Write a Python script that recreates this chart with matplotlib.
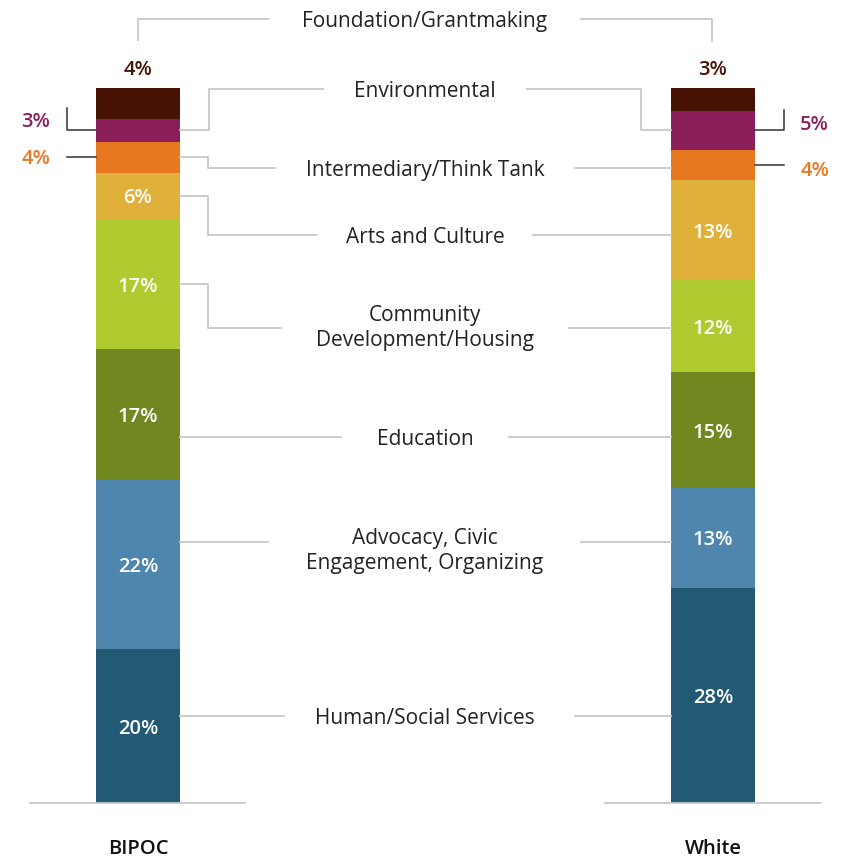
import matplotlib.pyplot as plt

# data: stacked from bottom to top
groups = ['BIPOC', 'White']
categories = ['Human/Social Services', 'Advocacy, Civic\nEngagement, Organizing', 'Education',
              'Community\nDevelopment/Housing', 'Arts and Culture', 'Intermediary/Think Tank',
              'Environmental', 'Foundation/Grantmaking']
bipoc = [20, 22, 17, 17, 6, 4, 3, 4]
white = [28, 13, 15, 12, 13, 4, 5, 3]
colors = ['#215a72', '#4f86ad', '#718820', '#afcb2f', '#dfb03a', '#e87722', '#8a1e5b', '#461203']

plt.rcParams['font.family'] = ['Open Sans', 'DejaVu Sans']

# pixel layout -> data coordinates
X0, DX = 138.0, 575.0
Y0, DY = 803.0, 715.0 / 93.0
TOFF = 2.5  # text sits a little lower than its box centre


def px(x):
    return (x - X0) / DX


def py(y):
    return (Y0 - y) / DY


fig = plt.figure(figsize=(8.48, 8.61), dpi=100)
ax = fig.add_axes([0, 0, 1, 1])
ax.set_xlim(px(0), px(848))
ax.set_ylim(py(861), py(0))
ax.axis('off')

bw = 84 / DX
series = [bipoc, white]
mids = []
for i, vals in enumerate(series):
    bottom = 0
    m = []
    for j, v in enumerate(vals):
        ax.bar(i, v, width=bw, bottom=bottom, color=colors[j], linewidth=0)
        m.append(bottom + v / 2)
        if j < 5:
            ax.text(i, bottom + v / 2 - TOFF / DY, f'{v}%', color='white', ha='center',
                    va='center', fontsize=14.5, fontweight='semibold')
        bottom += v
    mids.append(m)

grey = '#c8c8c8'
dark = '#333333'

# baselines
ax.plot([px(30), px(245)], [0, 0], color=grey, lw=1.3)
ax.plot([px(605), px(820)], [0, 0], color=grey, lw=1.3)
for i, g in enumerate(groups):
    ax.text(i, py(859.5), g, ha='center', va='bottom', fontsize=14.5, fontweight='semibold',
            color='#111111')

# category labels with connectors (pixel layout)
label_y = [716, 548.5, 437, 325.5, 235, 168, 89, 19]
conn_y = [716, 542, 437, 328, 235, 168, 89, 19]
left_end = [284, 268, 341, 281, 316, 275, 323, 268]
right_start = [575, 581, 509, 569, 533, 575, 527, 581]
left_elbow = [None, None, None, 208, 208, 208, 209, None]

bl = 180  # right edge of BIPOC bar
wl = 671  # left edge of White bar
for j, cat in enumerate(categories):
    ax.text(px(425), py(label_y[j] + TOFF), cat, ha='center', va='center', fontsize=15,
            color='#222222', linespacing=1.2)
    cy = py(conn_y[j])
    # left side
    if j == 7:
        ax.plot([px(138), px(138), px(left_end[j])], [py(40), cy, cy], color=grey, lw=1.3)
    elif left_elbow[j] is not None:
        ex = px(left_elbow[j])
        ax.plot([px(bl), ex, ex, px(left_end[j])], [mids[0][j], mids[0][j], cy, cy],
                color=grey, lw=1.3)
    else:
        ax.plot([px(bl), px(left_end[j])], [cy, cy], color=grey, lw=1.3)
    # right side
    if j == 7:
        ax.plot([px(right_start[j]), px(712), px(712)], [cy, cy, py(41)], color=grey, lw=1.3)
    elif j == 6:
        ax.plot([px(right_start[j]), px(641), px(641), px(wl)], [cy, cy, mids[1][j], mids[1][j]],
                color=grey, lw=1.3)
    else:
        ax.plot([px(right_start[j]), px(wl)], [cy, cy], color=grey, lw=1.3)

# small segments labelled outside the bars
ax.text(0, py(68 + TOFF), f'{bipoc[7]}%', color=colors[7], ha='center', va='center',
        fontsize=14.5, fontweight='semibold')
ax.text(1, py(68 + TOFF), f'{white[7]}%', color=colors[7], ha='center', va='center',
        fontsize=14.5, fontweight='semibold')

ax.plot([px(67), px(67), px(96)], [py(108), mids[0][6], mids[0][6]], color=dark, lw=1.1)
ax.text(px(36), py(120 + TOFF), f'{bipoc[6]}%', color=colors[6], ha='center', va='center',
        fontsize=14.5, fontweight='semibold')
ax.plot([px(67), px(96)], [mids[0][5], mids[0][5]], color=dark, lw=1.1)
ax.text(px(36), py(157 + TOFF), f'{bipoc[5]}%', color=colors[5], ha='center', va='center',
        fontsize=14.5, fontweight='semibold')

ax.plot([px(755), px(784), px(784)], [mids[1][6], mids[1][6], py(110)], color=dark, lw=1.1)
ax.text(px(814), py(123 + TOFF), f'{white[6]}%', color=colors[6], ha='center', va='center',
        fontsize=14.5, fontweight='semibold')
ax.plot([px(755), px(784)], [mids[1][5], mids[1][5]], color=dark, lw=1.1)
ax.text(px(815), py(168 + TOFF), f'{white[5]}%', color=colors[5], ha='center', va='center',
        fontsize=14.5, fontweight='semibold')

fig.savefig('out.png', dpi=100)
